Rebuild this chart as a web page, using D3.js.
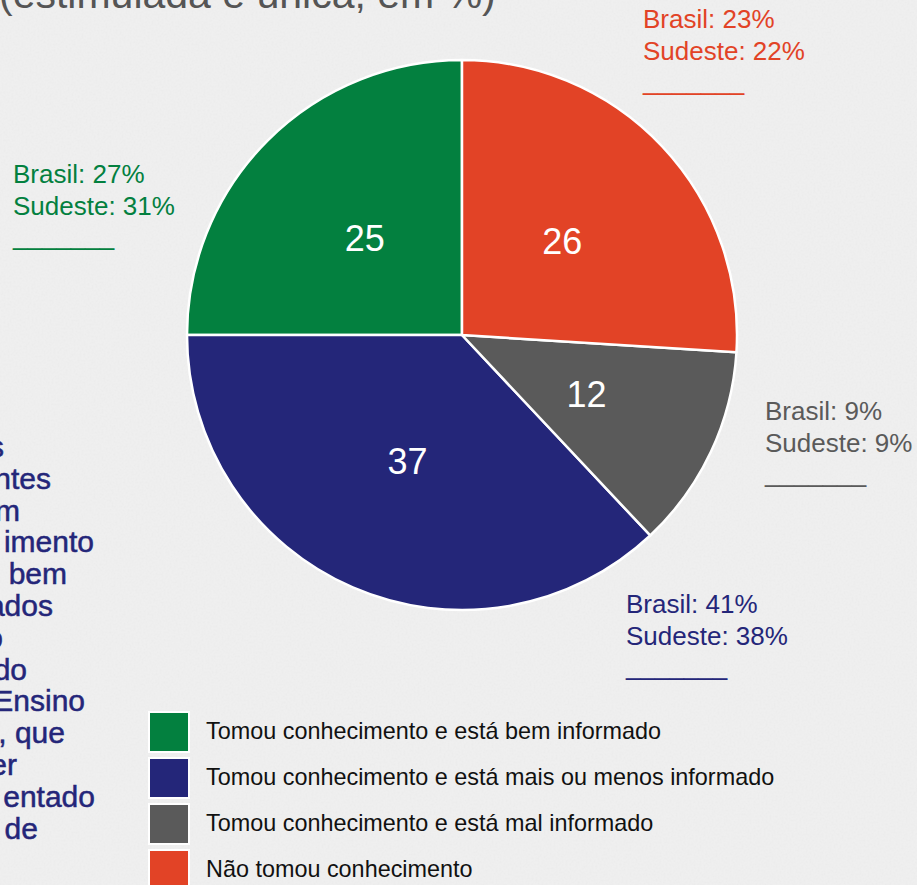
<!DOCTYPE html>
<html>
<head>
<meta charset="utf-8">
<script src="https://cdn.jsdelivr.net/npm/d3@7"></script>
<style>
  html, body { margin: 0; padding: 0; background: #ececec; overflow: hidden; }
  svg { display: block; }
  text { font-family: "Liberation Sans", Arial, Helvetica, sans-serif; }
</style>
</head>
<body>
<script>
// ---- data ----
const categories = [
  "Tomou conhecimento e está bem informado",
  "Tomou conhecimento e está mais ou menos informado",
  "Tomou conhecimento e está mal informado",
  "Não tomou conhecimento"
];
const values = [25, 37, 12, 26];
const brasil = [27, 41, 9, 23];
const sudeste = [31, 38, 9, 22];
const colors = ["#03803f", "#242679", "#5a5a5a", "#e24326"];
const titleText = "(estimulada e única, em %)";
const sideLines = ["s", "ntes", "m", "imento", " bem", "ados", "o", "do", "Ensino", ", que", "er", "entado", " de"];

// ---- layout ----
const W = 917, H = 885;
const cx = 462, cy = 335, R = 275;
const annoPos = [[13, 183], [626, 613], [765, 420], [643, 28]];
const sideRight = [4, 51, 20, 94, 67, 53, 3, 27, 85, 65, 17, 95, 38];

const svg = d3.select("body").append("svg").attr("width", W).attr("height", H);

// textured background
const defs = svg.append("defs");
const f = defs.append("filter").attr("id", "paper").attr("x", 0).attr("y", 0).attr("width", "100%").attr("height", "100%");
f.append("feTurbulence").attr("type", "fractalNoise").attr("baseFrequency", 0.5).attr("numOctaves", 3).attr("seed", 4).attr("result", "n");
f.append("feColorMatrix").attr("type", "matrix")
  .attr("values", "0 0 0 0 0.45  0 0 0 0 0.45  0 0 0 0 0.45  0.9 0 0 0 -0.35");
svg.append("rect").attr("width", W).attr("height", H).attr("fill", "#efefef");
svg.append("rect").attr("width", W).attr("height", H).attr("filter", "url(#paper)").attr("opacity", 0.12);

// title (cut off at top)
svg.append("text").attr("x", -1).attr("y", 8).attr("font-size", 41).attr("fill", "#555555").text(titleText);

// pie
const pie = d3.pie().sort(null).value(d => d).startAngle(2 * Math.PI).endAngle(0);
const arcs = pie(values);
const arc = d3.arc().innerRadius(0).outerRadius(R);
const labelArc = d3.arc().innerRadius(R / 2).outerRadius(R / 2);
const g = svg.append("g").attr("transform", `translate(${cx},${cy})`);
g.selectAll("path").data(arcs).join("path")
  .attr("d", arc).attr("fill", (d, i) => colors[i])
  .attr("stroke", "#ffffff").attr("stroke-width", 2.5).attr("stroke-linejoin", "round");
g.selectAll("text.v").data(arcs).join("text").attr("class", "v")
  .attr("transform", d => {
    const c = labelArc.centroid(d);
    return `translate(${c[0]},${c[1]})`;
  })
  .attr("text-anchor", "middle").attr("dy", "0.36em")
  .attr("font-size", 36).attr("fill", "#ffffff")
  .text(d => d.data);

// annotations
categories.forEach((c, i) => {
  const [x, y] = annoPos[i];
  const t = svg.append("g").attr("fill", colors[i]).attr("font-size", 26);
  t.append("text").attr("x", x).attr("y", y).text(`Brasil: ${brasil[i]}%`);
  t.append("text").attr("x", x).attr("y", y + 32).text(`Sudeste: ${sudeste[i]}%`);
  t.append("text").attr("x", x).attr("y", y + 62).text("_______");
});

// left paragraph (cut off)
svg.append("g").attr("fill", "#242679").attr("font-size", 30)
  .attr("stroke", "#242679").attr("stroke-width", 0.5)
  .selectAll("text").data(sideLines).join("text")
  .attr("x", (d, i) => sideRight[i]).attr("y", (d, i) => 457 + i * 31.8)
  .attr("text-anchor", "end").attr("xml:space", "preserve").style("white-space", "pre")
  .text(d => d);

// legend
const lg = svg.append("g");
categories.forEach((c, i) => {
  const y = 712 + i * 46;
  lg.append("rect").attr("x", 149).attr("y", y).attr("width", 40).attr("height", 40)
    .attr("fill", colors[i]).attr("stroke", "#ffffff").attr("stroke-width", 2);
  lg.append("text").attr("x", 206).attr("y", y + 27).attr("font-size", 23.4).attr("fill", "#111111").text(c);
});
</script>
</body>
</html>
